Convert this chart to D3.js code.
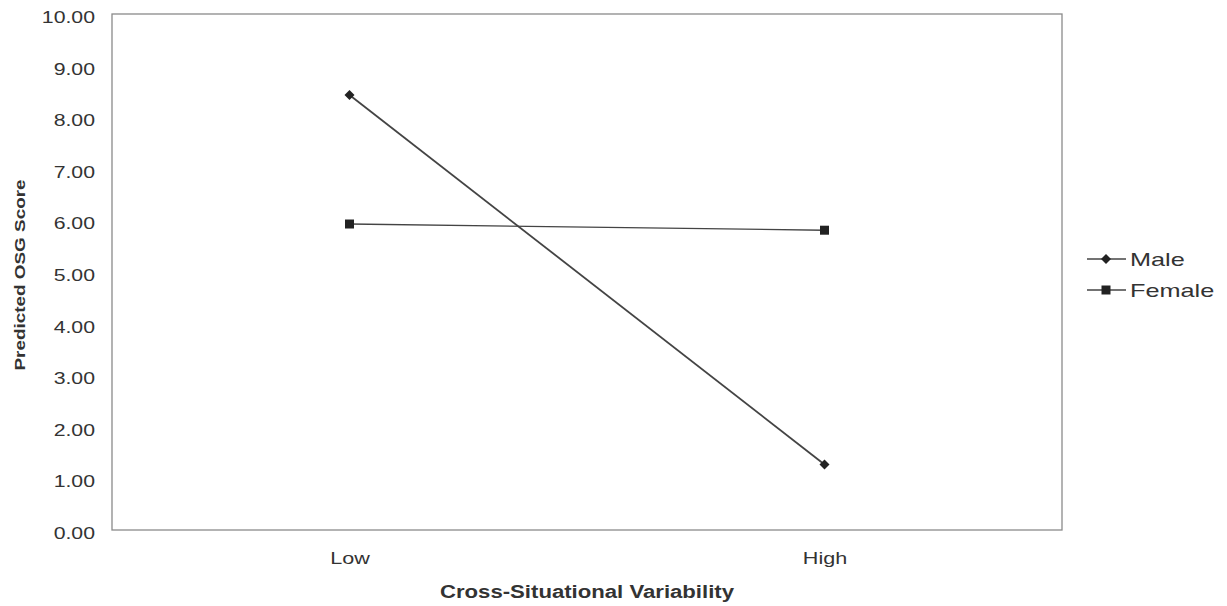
<!DOCTYPE html>
<html><head><meta charset="utf-8">
<script src="https://cdn.jsdelivr.net/npm/d3@7"></script>
<style>body{margin:0;background:#fff;} text{font-family:"Liberation Sans",Arial,sans-serif;fill:#333;}</style>
</head><body><svg id="c" width="1227" height="606"></svg>
<script>
const categories = ["Low", "High"];
const seriesNames = ["Male", "Female"];
const maleValues = [8.43, 1.27];
const femaleValues = [5.93, 5.81];
const yTicks = [0,1,2,3,4,5,6,7,8,9,10];

const svg = d3.select("#c");
const L=112, R=1062, T=14, B=530;
const x = d3.scalePoint().domain(categories).range([L,R]).padding(0.5);
const y = d3.scaleLinear().domain([0,10]).range([B,T]);

function stretch(sel, k){
  sel.each(function(){
    const len = this.getComputedTextLength();
    d3.select(this).attr("textLength", len*k).attr("lengthAdjust","spacingAndGlyphs");
  });
}

const diamond = {draw(ctx, size){const r=Math.sqrt(size/2); ctx.moveTo(0,-r); ctx.lineTo(r,0); ctx.lineTo(0,r); ctx.lineTo(-r,0); ctx.closePath();}};

svg.append("rect").attr("x",L).attr("y",T).attr("width",R-L).attr("height",B-T)
  .attr("fill","none").attr("stroke","#8a8a8a").attr("stroke-width",1.3);

const ya = svg.append("g").attr("transform",`translate(${L},0)`)
  .call(d3.axisLeft(y).tickValues(yTicks).tickFormat(d3.format(".2f")).tickSize(0).tickPadding(17));
ya.select(".domain").remove();
ya.selectAll("text").attr("font-size",17).attr("fill","#3a3a3a").attr("dy","0.5em")
  .attr("font-family","Liberation Sans, Arial, sans-serif").call(stretch,1.25);

const xa = svg.append("g").attr("transform",`translate(0,${B})`)
  .call(d3.axisBottom(x).tickSize(0).tickPadding(22));
xa.select(".domain").remove();
xa.selectAll("text").attr("font-size",17).attr("fill","#3a3a3a")
  .attr("font-family","Liberation Sans, Arial, sans-serif").call(stretch,1.27);

svg.append("text").attr("x",587).attr("y",598).attr("text-anchor","middle")
  .attr("font-size",18).attr("font-weight","bold").text("Cross-Situational Variability").call(stretch,1.23);
svg.append("text").attr("transform","translate(25,275) rotate(-90)").attr("text-anchor","middle")
  .attr("font-size",15).attr("font-weight","bold").text("Predicted OSG Score").call(stretch,1.26);

const series = [
  {name:seriesNames[0], values:maleValues, shape:diamond, size:50, sw:1.8},
  {name:seriesNames[1], values:femaleValues, shape:d3.symbolSquare, size:81, sw:1.4}
];
const line = d3.line().x((d,i)=>x(categories[i])).y(d=>y(d));
series.forEach(s=>{
  svg.append("path").attr("d",line(s.values)).attr("fill","none").attr("stroke","#444").attr("stroke-width",s.sw);
  svg.selectAll(null).data(s.values).enter().append("path")
    .attr("d",d3.symbol().type(s.shape).size(s.size))
    .attr("transform",(d,i)=>`translate(${x(categories[i])},${y(d)})`)
    .attr("fill","#222");
});

const lg = svg.append("g");
series.forEach((s,i)=>{
  const yy = 259 + i*31;
  lg.append("line").attr("x1",1087).attr("x2",1126).attr("y1",yy).attr("y2",yy).attr("stroke","#444").attr("stroke-width",1.6);
  lg.append("path").attr("d",d3.symbol().type(s.shape).size(s.size)).attr("transform",`translate(1106,${yy})`).attr("fill","#222");
  lg.append("text").attr("x",1130).attr("y",yy+7).attr("font-size",19).attr("fill","#3a3a3a").text(s.name).call(stretch,1.33);
});
</script></body></html>
